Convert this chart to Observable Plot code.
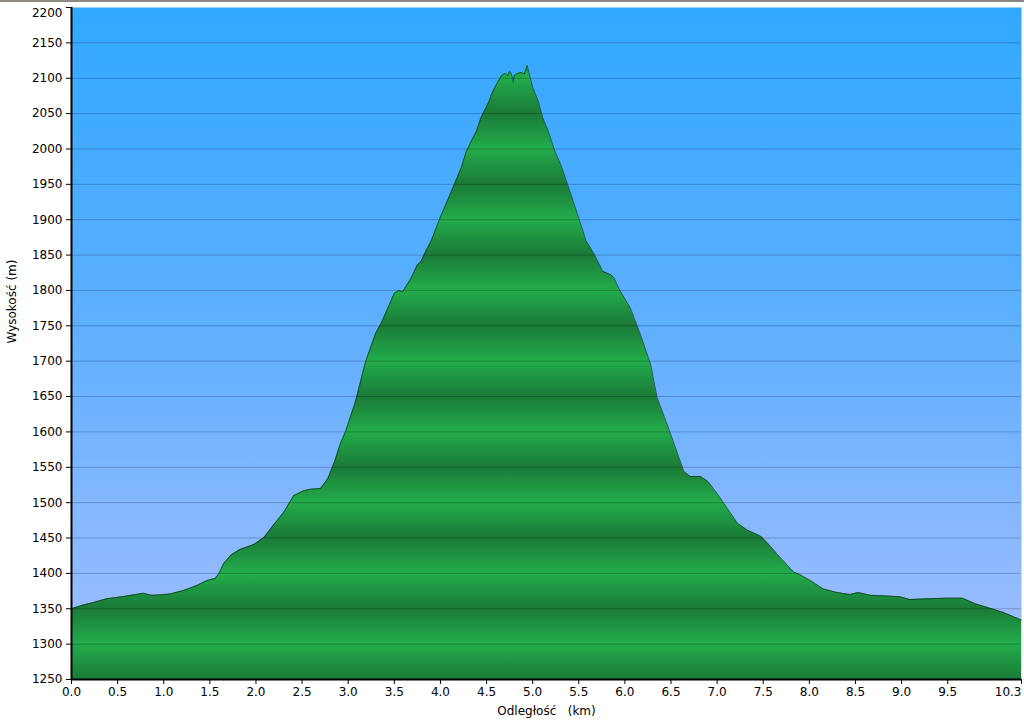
<!DOCTYPE html>
<html>
<head>
<meta charset="utf-8">
<script src="https://cdn.jsdelivr.net/npm/d3@7"></script>
<script src="https://cdn.jsdelivr.net/npm/@observablehq/plot@0.6"></script>
<style>
  body { margin: 0; background: #fff; }
  #topline { height: 2px; background: #8c8884; }
</style>
</head>
<body>
<div id="topline"></div>
<div id="chart"></div>
<script>
const distanceKm = [
  0.00, 0.12, 0.24, 0.38, 0.60, 0.78, 0.87, 1.00, 1.07, 1.22, 1.36, 1.47, 1.56, 1.60, 1.65, 1.73,
  1.83, 1.98, 2.09, 2.20, 2.30, 2.41, 2.52, 2.59, 2.70, 2.78, 2.85, 2.92, 2.97, 3.08, 3.19, 3.30,
  3.36, 3.43, 3.50, 3.55, 3.59, 3.68, 3.75, 3.79, 3.84, 3.90, 4.00, 4.12, 4.23, 4.28, 4.33, 4.39,
  4.44, 4.52, 4.57, 4.62, 4.66, 4.70, 4.73, 4.75, 4.77, 4.79, 4.80, 4.84, 4.88, 4.91, 4.94, 4.96,
  5.00, 5.06, 5.11, 5.17, 5.24, 5.31, 5.42, 5.53, 5.58, 5.66, 5.76, 5.85, 5.88, 5.95, 6.06, 6.17,
  6.28, 6.35, 6.46, 6.55, 6.64, 6.71, 6.82, 6.90, 7.01, 7.11, 7.22, 7.33, 7.48, 7.58, 7.68, 7.83,
  7.90, 8.01, 8.15, 8.30, 8.44, 8.53, 8.66, 8.84, 8.98, 9.09, 9.27, 9.48, 9.66, 9.80, 9.95, 10.10,
  10.30
];
const elevationM = [
  1350, 1355, 1359, 1364, 1368, 1372, 1369, 1370, 1371, 1376, 1383, 1390, 1393, 1400, 1414, 1426,
  1434, 1441, 1451, 1470, 1486, 1510, 1517, 1519, 1520, 1534, 1557, 1585, 1600, 1643, 1700, 1740,
  1754, 1775, 1796, 1800, 1798, 1817, 1836, 1841, 1855, 1870, 1904, 1940, 1975, 1996, 2010, 2025,
  2044, 2065, 2082, 2094, 2103, 2107, 2104, 2110, 2106, 2095, 2104, 2107, 2108, 2106, 2118, 2108,
  2087, 2068, 2044, 2025, 1997, 1976, 1934, 1890, 1870, 1853, 1827, 1822, 1818, 1799, 1775, 1737,
  1695, 1648, 1610, 1577, 1544, 1537, 1537, 1530, 1511, 1492, 1471, 1461, 1452, 1438, 1423, 1402,
  1398, 1390, 1378, 1373, 1370, 1373, 1369, 1368, 1367, 1363, 1364, 1365, 1365, 1357, 1351, 1345,
  1334
];
const xTicks = [0, 0.5, 1, 1.5, 2, 2.5, 3, 3.5, 4, 4.5, 5, 5.5, 6, 6.5, 7, 7.5, 8, 8.5, 9, 9.5, 10.3];
const yTicks = [1250, 1300, 1350, 1400, 1450, 1500, 1550, 1600, 1650, 1700, 1750, 1800, 1850, 1900, 1950, 2000, 2050, 2100, 2150, 2200];
const xLabel = "Odległość\u00a0\u00a0\u00a0(km)";
const yLabel = "Wysokość (m)";

const profile = distanceKm.map((d, i) => ({km: d, m: elevationM[i]}));
const xLast = xTicks[xTicks.length - 1];
const yLast = yTicks[yTicks.length - 1];
const fmtX = d3.format(".1f");

function gradients(index, scales) {
  const y = scales.y;
  const defs = d3.create("svg:defs");
  const sky = defs.append("linearGradient").attr("id", "skyGrad")
    .attr("x1", 0).attr("y1", 0).attr("x2", 0).attr("y2", 1);
  sky.append("stop").attr("offset", 0).attr("stop-color", "#30a8ff");
  sky.append("stop").attr("offset", 0.5).attr("stop-color", "#62b0ff");
  sky.append("stop").attr("offset", 1).attr("stop-color", "#a6bfff");
  const hill = defs.append("linearGradient").attr("id", "hillGrad")
    .attr("gradientUnits", "userSpaceOnUse").attr("spreadMethod", "repeat")
    .attr("x1", 0).attr("x2", 0).attr("y1", y(1250)).attr("y2", y(1350));
  hill.append("stop").attr("offset", 0).attr("stop-color", "#1b7a38");
  hill.append("stop").attr("offset", 0.5).attr("stop-color", "#22ac4b");
  hill.append("stop").attr("offset", 1).attr("stop-color", "#1b7a38");
  return defs.node();
}

const chart = Plot.plot({
  width: 1024,
  height: 722,
  marginTop: 5,
  marginLeft: 71,
  marginRight: 3,
  marginBottom: 45,
  style: {fontFamily: "'DejaVu Sans', Verdana, sans-serif", fontSize: "12px", background: "#fff", color: "#000"},
  x: {domain: [0, 10.3]},
  y: {domain: [1250, 2200]},
  marks: [
    gradients,
    Plot.frame({fill: "url(#skyGrad)", stroke: "none"}),
    Plot.areaY(profile, {x: "km", y1: 1250, y2: "m", fill: "url(#hillGrad)"}),
    Plot.gridY(yTicks.slice(1, -1), {stroke: "#000", strokeOpacity: 0.22, strokeWidth: 1}),
    Plot.line(profile, {x: "km", y: "m", stroke: "#0e2a18", strokeWidth: 1, strokeOpacity: 0.65}),
    Plot.axisX({ticks: xTicks, tickFormat: d => d === xLast ? "" : fmtX(d), tickSize: 5, tickPadding: 3, label: null, fontSize: 12}),
    Plot.text([xLast], {x: d => d, text: d => fmtX(d), frameAnchor: "bottom", textAnchor: "end", lineAnchor: "top", dy: 8, fontSize: 12}),
    Plot.axisY({ticks: yTicks, tickFormat: d => d === yLast ? "" : String(d), tickSize: 5, tickPadding: 4, label: null, fontSize: 12}),
    Plot.text([yLast], {y: d => d, text: d => String(d), frameAnchor: "left", textAnchor: "end", dx: -9, dy: 6, fontSize: 12}),
    Plot.ruleY([1250], {stroke: "#000", strokeWidth: 2}),
    Plot.ruleX([0], {stroke: "#000", strokeWidth: 2}),
    Plot.text([xLabel], {text: d => d, frameAnchor: "bottom", dy: 35, fontSize: 12}),
    Plot.text([yLabel], {text: d => d, frameAnchor: "left", rotate: -90, dx: -59, fontSize: 12})
  ]
});
document.getElementById("chart").appendChild(chart);
</script>
</body>
</html>
